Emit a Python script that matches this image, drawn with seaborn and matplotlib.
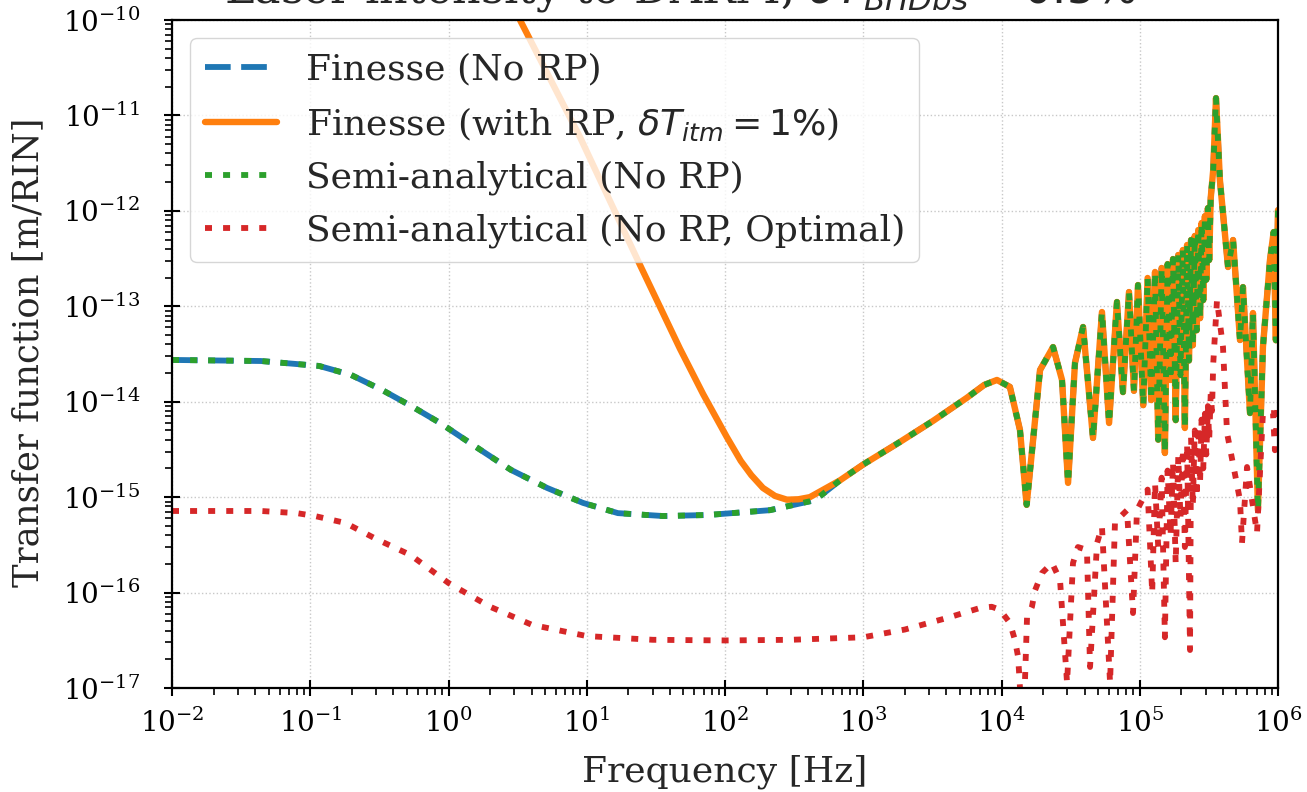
import numpy as np
import pandas as pd
import matplotlib
matplotlib.use("Agg")
import matplotlib.pyplot as plt
import seaborn as sns

# ---------------- data ----------------
# Finesse / semi-analytical without radiation pressure, low-frequency part [Hz], [m/RIN]
freq_norp_lo = [0.01, 0.044, 0.116, 0.197, 0.33, 0.553, 0.87, 1.58, 2.83, 5.16, 9.4,
                16.8, 35.6, 75.3, 211, 448, 679, 1000, 1850, 3200, 5620, 7500]
tf_norp_lo = [2.74e-14, 2.67e-14, 2.37e-14, 1.91e-14, 1.33e-14, 8.8e-15, 5.98e-15,
              3.36e-15, 1.93e-15, 1.25e-15, 8.7e-16, 6.8e-16, 6.34e-16, 6.5e-16,
              7.3e-16, 9.3e-16, 1.5e-15, 2.2e-15, 3.8e-15, 6.3e-15, 1.1e-14, 1.5e-14]

# Finesse with radiation pressure, low-frequency part
freq_rp_lo = [2.56, 3.29, 8.93, 24.3, 47.2, 69.5, 103, 130, 155, 188, 230, 281, 340, 411,
              679, 1000, 1850, 3200, 5620, 7500]
tf_rp_lo = [2.12e-10, 1.0e-10, 5.94e-12, 2.7e-13, 3.6e-14, 1.2e-14, 4.27e-15, 2.4e-15,
            1.7e-15, 1.25e-15, 1.03e-15, 9.4e-16, 9.5e-16, 1.0e-15, 1.5e-15, 2.2e-15,
            3.8e-15, 6.3e-15, 1.1e-14, 1.5e-14]

# shared high-frequency comb (all non-optimal curves overlap here)
freq_hf = [9.27e3, 1.15e4, 1.36e4, 1.52e4, 1.90e4, 2.36e4, 2.74e4, 3.03e4, 3.40e4, 3.89e4,
           4.59e4, 5.33e4, 6.0e4, 6.84e4, 7.56e4, 8.36e4, 9.08e4, 9.71e4, 1.06e5, 1.14e5,
           1.21e5, 1.29e5, 1.36e5, 1.44e5, 1.52e5, 1.59e5, 1.67e5, 1.74e5, 1.82e5, 1.90e5,
           1.97e5, 2.05e5, 2.12e5, 2.20e5, 2.27e5, 2.35e5, 2.42e5, 2.50e5, 2.58e5, 2.65e5,
           2.73e5, 2.80e5, 2.88e5, 2.96e5, 3.03e5, 3.11e5, 3.18e5, 3.26e5, 3.40e5, 3.56e5,
           3.80e5, 4.35e5, 4.73e5, 5.31e5, 5.58e5, 6.27e5, 6.59e5, 7.16e5, 7.78e5, 8.75e5,
           9.3e5, 9.65e5, 1.0e6]
tf_hf = [1.69e-14, 1.43e-14, 5.06e-15, 8.3e-16, 2.15e-14, 3.74e-14, 1.69e-14, 1.41e-15,
         2.55e-14, 6.07e-14, 4.17e-15, 8.71e-14, 5.98e-15, 1.11e-13, 1.26e-14, 1.41e-13,
         1.30e-14, 1.67e-13, 9.2e-15, 1.98e-13, 1.04e-14, 2.29e-13, 4.0e-15, 2.52e-13,
         2.9e-15, 2.77e-13, 1.69e-14, 3.13e-13, 6.4e-15, 3.45e-13, 1.9e-14, 3.89e-13,
         5.3e-15, 4.39e-13, 2.7e-14, 4.95e-13, 3.9e-14, 5.46e-13, 5.6e-14, 6.3e-13,
         7.5e-14, 7.46e-13, 1.16e-13, 8.8e-13, 1.9e-13, 1.07e-12, 3.05e-13, 1.36e-12,
         2.68e-12, 1.52e-11, 2.1e-12, 2.58e-13, 4.95e-13, 4.43e-14, 1.59e-13, 7.6e-15,
         8.5e-14, 7.3e-16, 3.74e-14, 3.05e-13, 6.0e-13, 4.4e-14, 1.02e-12]

# semi-analytical, optimal (no RP)
freq_opt = [0.01, 0.044, 0.08, 0.108, 0.18, 0.30, 0.53, 1.0, 2.0, 4.0, 10, 30, 100, 300,
            1000, 2000, 4000, 7000, 8500, 9750, 1.15e4, 1.25e4, 1.32e4, 1.40e4, 1.45e4,
            1.53e4, 1.66e4, 1.75e4, 1.96e4, 2.32e4, 2.65e4, 2.98e4, 3.29e4, 3.57e4, 4.15e4,
            4.37e4, 4.91e4, 5.33e4, 6.10e4, 6.62e4, 8.09e4, 8.94e4, 9.55e4, 1.14e5, 1.23e5,
            1.29e5, 1.36e5, 1.44e5, 1.52e5, 1.59e5, 1.67e5, 1.74e5, 1.82e5, 1.90e5, 1.97e5,
            2.05e5, 2.12e5, 2.20e5, 2.31e5, 2.35e5, 2.42e5, 2.50e5, 2.58e5, 2.65e5, 2.73e5,
            2.80e5, 2.88e5, 2.96e5, 3.03e5, 3.11e5, 3.18e5, 3.26e5, 3.33e5, 3.40e5, 3.62e5,
            4.0e5, 4.28e5, 5.31e5, 5.49e5, 5.97e5, 7.05e5, 7.78e5, 9.2e5, 9.5e5, 1.0e6]
tf_opt = [7.16e-16, 7.16e-16, 6.8e-16, 6.34e-16, 5.36e-16, 3.64e-16, 2.48e-16, 1.26e-16,
          7.1e-17, 4.6e-17, 3.5e-17, 3.2e-17, 3.15e-17, 3.2e-17, 3.4e-17, 4.1e-17, 5.4e-17,
          6.9e-17, 7.1e-17, 6.6e-17, 4.8e-17, 3.2e-17, 2.1e-17, 5e-18, 5e-18, 5.5e-17,
          7.1e-17, 1.06e-16, 1.6e-16, 2.04e-16, 1.36e-16, 1.13e-17, 2.04e-16, 3.0e-16,
          2.8e-16, 1.66e-17, 3.3e-16, 4.9e-16, 1.13e-17, 5.5e-16, 7.3e-16, 6.1e-17, 7.3e-16,
          1.2e-15, 9.9e-17, 1.4e-15, 3e-16, 1.6e-15, 3.4e-17, 1.9e-15, 4e-16, 2.3e-15,
          2e-16, 2.7e-15, 6e-16, 3.2e-15, 3e-16, 3.6e-15, 2.5e-17, 4.2e-15, 8e-16, 5e-15,
          1e-15, 5.6e-15, 1.4e-15, 6.5e-15, 2e-15, 7.5e-15, 2.8e-15, 9e-15, 4e-15, 1.2e-14,
          8e-15, 2.5e-14, 1.16e-13, 3.74e-14, 4.7e-15, 9.3e-16, 3.3e-16, 2.07e-15, 4.2e-16,
          7.6e-15, 7.6e-15, 3.1e-15, 1.04e-14]

labels = ["Finesse (No RP)",
          r"Finesse (with RP, $\delta T_{itm} = 1\%$)",
          "Semi-analytical (No RP)",
          "Semi-analytical (No RP, Optimal)"]
title_text = r"Laser intensity to DARM, $\delta T_{BHDbs} = 0.5\%$"
xlabel = "Frequency [Hz]"
ylabel = "Transfer function [m/RIN]"

# ---------------- style ----------------
sns.set_style("white")
plt.rcParams["font.family"] = ["DejaVu Serif"]
plt.rcParams["mathtext.fontset"] = "dejavusans"
plt.rcParams["axes.unicode_minus"] = True

pal = sns.color_palette("tab10")

fig = plt.figure(figsize=(13.07, 7.92), dpi=100)
ax = fig.add_axes([172 / 1307, 1 - 688 / 792, (1278 - 172) / 1307, (688 - 20) / 792])

norp_f = freq_norp_lo + freq_hf
norp_v = tf_norp_lo + tf_hf
rp_f = freq_rp_lo + freq_hf
rp_v = tf_rp_lo + tf_hf

sns.lineplot(x=norp_f, y=norp_v, ax=ax, color=pal[0], lw=4.2,
             linestyle=(0, (4.4, 1.8)), label=labels[0], sort=False, estimator=None)
sns.lineplot(x=rp_f, y=rp_v, ax=ax, color=pal[1], lw=4.6, linestyle="-",
             label=labels[1], sort=False, estimator=None)
sns.lineplot(x=norp_f, y=norp_v, ax=ax, color=pal[2], lw=4.2,
             linestyle=(0, (1.2, 1.9)), label=labels[2], sort=False, estimator=None)
sns.lineplot(x=freq_opt, y=tf_opt, ax=ax, color=pal[3], lw=4.2,
             linestyle=(0, (1.2, 1.9)), label=labels[3], sort=False, estimator=None)

ax.set_xscale("log")
ax.set_yscale("log")
ax.set_xlim(1e-2, 1e6)
ax.set_ylim(1e-17, 1e-10)

ax.xaxis.set_major_locator(matplotlib.ticker.LogLocator(base=10, numticks=20))
ax.xaxis.set_minor_locator(matplotlib.ticker.LogLocator(base=10, subs=np.arange(2, 10), numticks=100))
ax.yaxis.set_major_locator(matplotlib.ticker.LogLocator(base=10, numticks=20))
ax.yaxis.set_minor_locator(matplotlib.ticker.LogLocator(base=10, subs=np.arange(2, 10), numticks=100))
ax.xaxis.set_minor_formatter(matplotlib.ticker.NullFormatter())
ax.yaxis.set_minor_formatter(matplotlib.ticker.NullFormatter())

ax.grid(True, which="major", color="#c8c8c8", linestyle=":", linewidth=1.0)
for s in ax.spines.values():
    s.set_color("black")
    s.set_linewidth(1.6)
ax.tick_params(which="major", direction="inout", length=12, width=1.5,
               labelsize=20, colors="black", bottom=True, left=True)
ax.tick_params(axis="x", which="major", pad=9)
ax.tick_params(axis="y", which="major", pad=17)
ax.tick_params(which="minor", direction="out", length=5, width=1.2,
               bottom=True, left=True, colors="black")

ax.set_xlabel(xlabel, fontsize=26)
ax.set_ylabel(ylabel, fontsize=25.5)
ax.xaxis.set_label_coords(0.5, -0.100)
ax.yaxis.set_label_coords(-0.115, 0.503)
ax.xaxis.label.set_va("top")

leg = ax.legend(loc="upper left", fontsize=26, handlelength=2.0, frameon=True,
                framealpha=0.8, fancybox=True, borderaxespad=0.5)
leg.get_frame().set_edgecolor("#cccccc")

fig.text(680 / 1307, 1 - 3 / 792, title_text, ha="center", va="baseline", fontsize=32)

fig.savefig("out.png", dpi=100)
